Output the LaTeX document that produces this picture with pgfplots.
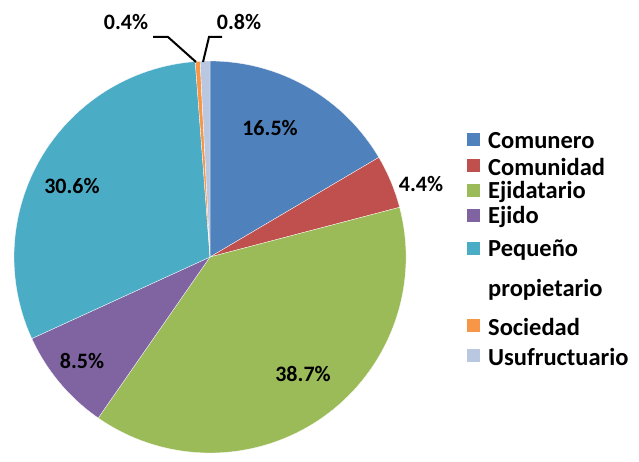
\documentclass[border=0pt]{standalone}
\usepackage{pgfplots}
\pgfplotsset{compat=1.18}
\usepackage{pgfplotstable}
\usepackage{fontspec}
\setmainfont{Carlito}

\definecolor{c0}{HTML}{4F81BD}
\definecolor{c1}{HTML}{C0504D}
\definecolor{c2}{HTML}{9BBB59}
\definecolor{c3}{HTML}{8064A2}
\definecolor{c4}{HTML}{4BACC6}
\definecolor{c5}{HTML}{F79646}
\definecolor{c6}{HTML}{B9C7E0}

% shares (%), clockwise from 12 o'clock
\pgfplotstableread[col sep=comma]{
label,value
Comunero,16.5
Comunidad,4.4
Ejidatario,38.7
Ejido,8.5
Pequeño propietario,30.6
Sociedad,0.4
Usufructuario,0.8
}\piedata

% cumulative start / end angles of each slice
\def\cum{0}
\pgfplotsforeachungrouped \i in {0,...,6}{%
  \pgfplotstablegetelem{\i}{value}\of\piedata
  \let\val\pgfplotsretval
  \pgfmathsetmacro\sa{90-3.6036036*\cum}%
  \pgfmathsetmacro\newcum{\cum+\val}%
  \pgfmathsetmacro\ea{90-3.6036036*\newcum}%
  \expandafter\xdef\csname sa\i\endcsname{\sa}%
  \expandafter\xdef\csname ea\i\endcsname{\ea}%
  \let\cum\newcum
}

\newcommand\lbl{\fontsize{22}{26}\bfseries\selectfont}
\newcommand\leg{\fontsize{24.5}{28}\bfseries\selectfont}

\begin{document}
\begin{tikzpicture}
\begin{axis}[
  x=1pt, y=1pt,
  xmin=0, xmax=639, ymin=0, ymax=455,
  hide axis, clip=false,
]
  \path (axis cs:0,0) rectangle (axis cs:639,455);
  % slices
  \pgfplotsinvokeforeach{0,...,6}{
    \fill[c#1, draw=white, line width=0.3pt]
      (axis cs:210,198)
      -- (axis cs:{210+196*cos(\csname sa#1\endcsname)},{198+196*sin(\csname sa#1\endcsname)})
      arc[start angle=\csname sa#1\endcsname, end angle=\csname ea#1\endcsname, radius=196]
      -- cycle;
  }
  % data labels
  \node[font=\lbl] at (axis cs:270,327) {16.5\%};
  \node[font=\lbl] at (axis cs:421,271) {4.4\%};
  \node[font=\lbl] at (axis cs:303,81) {38.7\%};
  \node[font=\lbl] at (axis cs:82,94) {8.5\%};
  \node[font=\lbl] at (axis cs:72,269) {30.6\%};
  \node[font=\lbl] at (axis cs:126,433) {0.4\%};
  \node[font=\lbl] at (axis cs:239,433) {0.8\%};
  % leader lines
  \draw[line width=2pt] (axis cs:153,418) -- (axis cs:168,418) -- (axis cs:196,393);
  \draw[line width=2pt] (axis cs:222,418) -- (axis cs:209,418) -- (axis cs:203,393);
  % legend
  \fill[c0] (axis cs:467,309) rectangle (axis cs:480,322);
  \fill[c1] (axis cs:467,283) rectangle (axis cs:480,296);
  \fill[c2] (axis cs:467,258) rectangle (axis cs:480,271);
  \fill[c3] (axis cs:467,233) rectangle (axis cs:480,246);
  \fill[c4] (axis cs:467,200) rectangle (axis cs:480,213);
  \fill[c5] (axis cs:467,123) rectangle (axis cs:480,136);
  \fill[c6] (axis cs:467,93) rectangle (axis cs:480,106);
  \node[font=\leg, anchor=west, inner sep=0pt] at (axis cs:488,314) {Comunero};
  \node[font=\leg, anchor=west, inner sep=0pt] at (axis cs:488,288) {Comunidad};
  \node[font=\leg, anchor=west, inner sep=0pt] at (axis cs:488,263) {Ejidatario};
  \node[font=\leg, anchor=west, inner sep=0pt] at (axis cs:488,238) {Ejido};
  \node[font=\leg, anchor=west, inner sep=0pt] at (axis cs:488,205) {Pequeño};
  \node[font=\leg, anchor=west, inner sep=0pt] at (axis cs:488,165) {propietario};
  \node[font=\leg, anchor=west, inner sep=0pt] at (axis cs:488,128) {Sociedad};
  \node[font=\leg, anchor=west, inner sep=0pt] at (axis cs:488,98) {Usufructuario};
\end{axis}
\end{tikzpicture}
\end{document}
